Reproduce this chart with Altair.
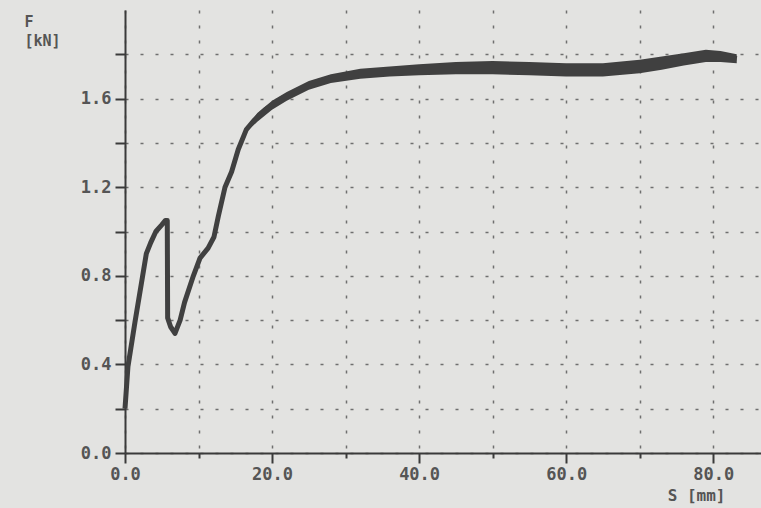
import altair as alt
import pandas as pd

# Main force-displacement trace (centre of the printed line)
S = [0.0, 0.4, 1.35, 2.4, 2.9, 3.5, 4.2, 5.0, 5.5, 5.75, 5.8, 6.2, 6.8, 7.5, 8.1, 9.3, 10.2,
     11.3, 12.1, 12.7, 13.6, 14.5, 15.4, 16.5, 17.5, 19.1, 21.3, 23.6, 25.9, 29.1, 32.7,
     37.2, 42.0, 46.4, 52.0, 59.0, 65.9, 70.4, 75.0, 79.1, 81.9, 83.2]
F = [0.20, 0.39, 0.59, 0.80, 0.90, 0.95, 1.00, 1.03, 1.05, 1.05, 0.61, 0.57, 0.54, 0.60, 0.68,
     0.80, 0.88, 0.925, 0.975, 1.07, 1.20, 1.27, 1.37, 1.46, 1.50, 1.55, 1.60, 1.64, 1.67,
     1.70, 1.72, 1.73, 1.74, 1.74, 1.74, 1.73, 1.73, 1.745, 1.78, 1.80, 1.79, 1.78]

# Envelope of the noisy plateau band
S_band = [16.5, 18, 20, 22, 25, 28, 32, 36, 40, 45, 50, 55, 60, 65, 70, 73, 76, 79, 81, 83.2]
F_lo = [1.45, 1.495, 1.55, 1.59, 1.64, 1.67, 1.69, 1.70, 1.705, 1.71, 1.71, 1.705, 1.70, 1.70,
        1.715, 1.73, 1.75, 1.765, 1.765, 1.76]
F_hi = [1.47, 1.535, 1.59, 1.63, 1.68, 1.71, 1.735, 1.745, 1.755, 1.765, 1.77, 1.765, 1.76, 1.76,
        1.775, 1.79, 1.805, 1.82, 1.815, 1.80]

x_ticks = [0, 10, 20, 30, 40, 50, 60, 70, 80]
y_ticks = [0.0, 0.2, 0.4, 0.6, 0.8, 1.0, 1.2, 1.4, 1.6, 1.8]

df = pd.DataFrame({"S": S, "F": F})
band = pd.DataFrame({"S": S_band, "lo": F_lo, "hi": F_hi})

FONT = "DejaVu Sans Mono"
INK = "#404040"

xscale = alt.Scale(domain=[0, 86.5], nice=False, zero=False)
yscale = alt.Scale(domain=[0, 2.0], nice=False)

xaxis = alt.Axis(
    values=x_ticks,
    labelExpr="datum.value % 20 == 0 ? format(datum.value, '.1f') : ''",
    tickSize={"condition": {"test": "datum.value % 20 == 0", "value": 10}, "value": 5},
    labelPadding=3,
    grid=True, gridDash=[3, 12], gridColor="#6f6f6f", gridWidth=1.5,
    domainColor="#3a3a3a", domainWidth=2, tickColor="#3a3a3a", tickWidth=2,
    labelFont=FONT, labelFontSize=17, labelFontWeight="bold", labelColor="#555555",
    labelFlush=False,
    title="S [mm]", titleFont=FONT, titleFontSize=16, titleFontWeight="bold",
    titleColor="#555555", titleAlign="right", titleAnchor="start",
    titleX=600, titleY=34, titleBaseline="top",
)
yaxis = alt.Axis(
    values=y_ticks,
    labelExpr="round(datum.value * 10) % 4 == 0 ? format(datum.value, '.1f') : ''",
    tickSize=10, labelPadding=4,
    grid=True, gridDash=[3, 12], gridColor="#6f6f6f", gridWidth=1.5,
    domainColor="#3a3a3a", domainWidth=2, tickColor="#3a3a3a", tickWidth=2,
    labelFont=FONT, labelFontSize=17, labelFontWeight="bold", labelColor="#555555",
    labelFlush=False,
    title=["F", "[kN]"], titleFont=FONT, titleFontSize=15, titleFontWeight="bold",
    titleColor="#555555", titleAngle=0, titleAlign="left", titleBaseline="top",
    titleX=-101, titleY=4, titleLineHeight=19,
)

base_line = alt.Chart(df).mark_line(color=INK, strokeWidth=5, strokeJoin="round").encode(
    x=alt.X("S:Q", scale=xscale, axis=xaxis),
    y=alt.Y("F:Q", scale=yscale, axis=yaxis),
    order="S:Q",
)

band_area = alt.Chart(band).mark_area(color=INK, opacity=1).encode(
    x=alt.X("S:Q", scale=xscale),
    y=alt.Y("lo:Q", scale=yscale),
    y2="hi:Q",
)

chart = alt.layer(base_line, band_area).properties(
    width=636, height=443,
    padding={"left": 125, "top": 10, "right": 0, "bottom": 55},
    autosize=alt.AutoSizeParams(type="none"),
    background="#e3e3e1",
).configure_view(stroke=None)

chart.save("out.html", embed_options={"renderer": "svg", "actions": False})
